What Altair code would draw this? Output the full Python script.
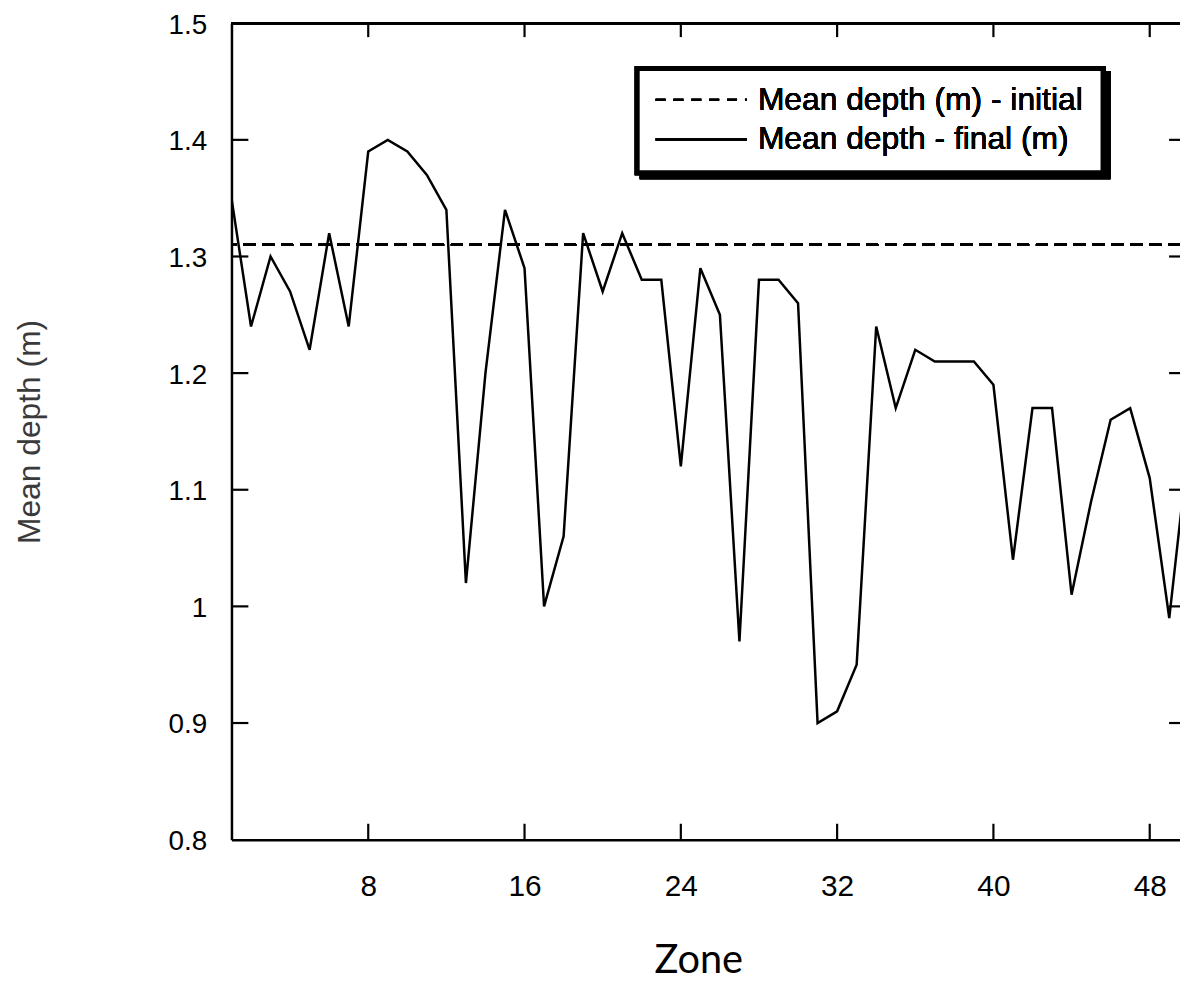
import altair as alt
import pandas as pd

# ---- data ----
zones = list(range(1, 51))
final_depth = [1.35, 1.24, 1.30, 1.27, 1.22, 1.32, 1.24, 1.39, 1.40, 1.39,
               1.37, 1.34, 1.02, 1.20, 1.34, 1.29, 1.00, 1.06, 1.32, 1.27,
               1.32, 1.28, 1.28, 1.12, 1.29, 1.25, 0.97, 1.28, 1.28, 1.26,
               0.90, 0.91, 0.95, 1.24, 1.17, 1.22, 1.21, 1.21, 1.21, 1.19,
               1.04, 1.17, 1.17, 1.01, 1.09, 1.16, 1.17, 1.11, 0.99, 1.14]
initial_depth = 1.31
x_ticks = [8, 16, 24, 32, 40, 48]
y_ticks = [0.8, 0.9, 1.0, 1.1, 1.2, 1.3, 1.4, 1.5]
y_inner_ticks = [0.9, 1.0, 1.1, 1.2, 1.3, 1.4]
legend_labels = ["Mean depth (m) - initial", "Mean depth - final (m)"]

W, H = 955, 822

df = pd.DataFrame({"zone": zones, "depth": final_depth})
xt = pd.DataFrame({"zone": x_ticks})
yt = pd.DataFrame({"depth": y_inner_ticks})

xscale = alt.Scale(domain=[1, 49.55], nice=False, zero=False)
yscale = alt.Scale(domain=[0.8, 1.5], nice=False, zero=False)

xaxis = alt.Axis(values=x_ticks, ticks=False, tickSize=0, grid=False,
                 domainColor="black", domainWidth=2.5,
                 labelFont="Liberation Sans", labelFontSize=30, labelColor="black",
                 labelPadding=32, labelFlush=False,
                 title="Zone", titleFont="Lato", titleFontSize=40,
                 titleFontWeight="normal", titleColor="black",
                 titleX=470, titleY=134, titleBaseline="alphabetic", titleAlign="center")
yaxis = alt.Axis(values=y_ticks, format="~g", ticks=False, tickSize=0, grid=False,
                 domainColor="black", domainWidth=2.5,
                 labelFont="Liberation Sans", labelFontSize=28, labelColor="black",
                 labelPadding=25, labelFlush=False, labelOffset=2,
                 title="Mean depth (m)", titleFont="Liberation Sans", titleFontSize=32,
                 titleFontWeight="normal", titleColor="#3a3a3a",
                 titleAngle=270, titleX=-203, titleY=411, titleBaseline="middle",
                 titleAlign="center")

def X(field="zone"):
    return alt.X(f"{field}:Q", scale=xscale, axis=xaxis)

def Y(field="depth"):
    return alt.Y(f"{field}:Q", scale=yscale, axis=yaxis)

line = alt.Chart(df).mark_line(color="black", strokeWidth=2.5, clip=True).encode(
    x=X(), y=Y())

init_rule = alt.Chart(df).mark_rule(color="black", strokeWidth=2.2, strokeDash=[12, 7]).encode(
    y=alt.datum(initial_depth, scale=yscale, axis=yaxis))

left_ticks = alt.Chart(yt).mark_rule(color="black", strokeWidth=2.2).encode(
    y=Y(), x=alt.value(0), x2=alt.value(17))
right_ticks = alt.Chart(yt).mark_rule(color="black", strokeWidth=2.2).encode(
    y=Y(), x=alt.value(W - 11), x2=alt.value(W))
top_ticks = alt.Chart(xt).mark_rule(color="black", strokeWidth=2.2).encode(
    x=X(), y=alt.value(0), y2=alt.value(14))
bottom_ticks = alt.Chart(xt).mark_rule(color="black", strokeWidth=2.2).encode(
    x=X(), y=alt.value(H - 16), y2=alt.value(H))
top_border = alt.Chart(xt).mark_rule(color="black", strokeWidth=2.5).encode(
    x=alt.value(0), x2=alt.value(W), y=alt.value(0))

# legend box with drop shadow
shadow = alt.Chart(xt).mark_rect(color="black").encode(
    x=alt.value(411), x2=alt.value(885), y=alt.value(48), y2=alt.value(157))
box = alt.Chart(xt).mark_rect(fill="white", stroke="black", strokeWidth=5).encode(
    x=alt.value(408.5), x2=alt.value(877.5), y=alt.value(45.5), y2=alt.value(150.5))
leg_l1 = alt.Chart(xt).mark_rule(color="black", strokeWidth=2, strokeDash=[10, 8]).encode(
    x=alt.value(427), x2=alt.value(519), y=alt.value(77))
leg_l2 = alt.Chart(xt).mark_rule(color="black", strokeWidth=2).encode(
    x=alt.value(427), x2=alt.value(519), y=alt.value(117))
leg_t1 = alt.Chart(xt).mark_text(font="Liberation Sans", fontSize=32, align="left",
                                 baseline="middle", color="black",
                                 text=legend_labels[0]).encode(
    x=alt.value(530), y=alt.value(77))
leg_t2 = alt.Chart(xt).mark_text(font="Liberation Sans", fontSize=32, align="left",
                                 baseline="middle", color="black",
                                 text=legend_labels[1]).encode(
    x=alt.value(530), y=alt.value(117))

chart = alt.layer(
    init_rule, line, left_ticks, right_ticks, top_ticks, bottom_ticks, top_border,
    shadow, box, leg_l1, leg_l2, leg_t1, leg_t2
).properties(
    width=W, height=H,
    autosize=alt.AutoSizeParams(type="none"),
    padding={"left": 225, "top": 12, "right": 0, "bottom": 140},
).configure_view(stroke=None)

chart.save("out.html", embed_options={"renderer": "svg", "actions": False})
